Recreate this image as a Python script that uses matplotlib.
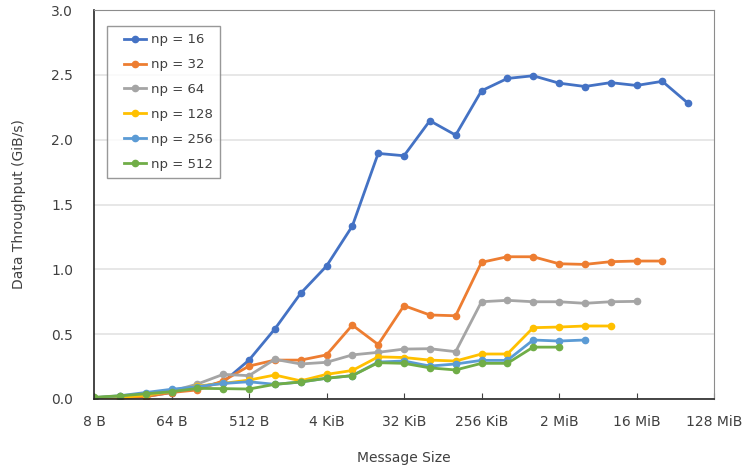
import numpy as np
import matplotlib
matplotlib.use("Agg")
import matplotlib.pyplot as plt
from matplotlib.lines import Line2D
from matplotlib.legend_handler import HandlerLine2D

# message sizes: 8 B .. 64 MiB, powers of two
sizes = [2 ** e for e in range(3, 27)]

tick_sizes = [2 ** e for e in range(3, 28, 3)]
tick_labels = ["8 B", "64 B", "512 B", "4 KiB", "32 KiB", "256 KiB",
               "2 MiB", "16 MiB", "128 MiB"]

# throughput in GiB/s
np16 = [0.01, 0.015, 0.02, 0.05, 0.09, 0.13, 0.30, 0.54, 0.815, 1.025, 1.334,
        1.894, 1.876, 2.146, 2.035, 2.377, 2.472, 2.493, 2.436, 2.41, 2.44,
        2.418, 2.45, 2.28]
np32 = [0.01, 0.01, 0.018, 0.05, 0.07, 0.14, 0.254, 0.30, 0.30, 0.34, 0.57,
        0.42, 0.72, 0.648, 0.642, 1.054, 1.097, 1.097, 1.043, 1.038, 1.059,
        1.064, 1.064]
np64 = [0.01, 0.02, 0.03, 0.06, 0.115, 0.19, 0.18, 0.306, 0.27, 0.283, 0.34,
        0.36, 0.385, 0.388, 0.365, 0.75, 0.761, 0.75, 0.75, 0.738, 0.75,
        0.753]
np128 = [0.0, 0.01, 0.03, 0.06, 0.10, 0.12, 0.146, 0.185, 0.14, 0.19, 0.22,
         0.325, 0.32, 0.30, 0.293, 0.347, 0.347, 0.55, 0.555, 0.563, 0.563]
np256 = [0.01, 0.025, 0.05, 0.075, 0.095, 0.12, 0.133, 0.113, 0.131, 0.16,
         0.18, 0.285, 0.293, 0.254, 0.27, 0.298, 0.298, 0.455, 0.447, 0.455]
np512 = [0.013, 0.025, 0.04, 0.056, 0.082, 0.08, 0.077, 0.113, 0.131, 0.16,
         0.18, 0.28, 0.275, 0.24, 0.224, 0.275, 0.275, 0.40, 0.40]

series = [("np = 16", np16, "#4472C4"),
          ("np = 32", np32, "#ED7D31"),
          ("np = 64", np64, "#A5A5A5"),
          ("np = 128", np128, "#FFC000"),
          ("np = 256", np256, "#5B9BD5"),
          ("np = 512", np512, "#70AD47")]

plt.rcParams["font.family"] = ["DejaVu Sans"]

fig = plt.figure(figsize=(7.43, 4.72), dpi=100)
ax = fig.add_axes([94 / 743, 73 / 472, 620 / 743, 389 / 472])

for label, vals, color in series:
    ax.plot(sizes[:len(vals)], vals, color=color, lw=2, marker="o",
            markersize=4.5, label=label)

ax.set_xscale("log", base=2)
ax.set_xlim(8, 2 ** 27)
ax.set_ylim(0, 3.0)
ax.set_xticks(tick_sizes)
ax.set_xticklabels(tick_labels)
ax.minorticks_off()
ax.set_yticks(np.arange(0, 3.01, 0.5))
ax.set_yticklabels([f"{v:.1f}" for v in np.arange(0, 3.01, 0.5)])

ax.grid(axis="y", color="#E3E3E3", lw=1.2)
ax.set_axisbelow(True)
ax.tick_params(axis="x", direction="in", length=4, color="#404040",
               labelsize=10, labelcolor="#404040", pad=11.5)
ax.tick_params(axis="y", length=0, labelsize=10, labelcolor="#404040",
               pad=15)

for side in ("top", "right"):
    ax.spines[side].set_color("#8C8C8C")
for side in ("left", "bottom"):
    ax.spines[side].set_color("#262626")
    ax.spines[side].set_linewidth(1.2)

ax.set_xlabel("Message Size", fontsize=10, color="#404040", labelpad=16)
ax.set_ylabel("Data Throughput (GiB/s)", fontsize=10, color="#404040",
              labelpad=18)

# short handles with some space to their left, like the original
leg = ax.legend(loc="upper left", bbox_to_anchor=(13 / 620, 1 - 16 / 389),
                fontsize=9.5, frameon=True, fancybox=False, borderpad=0.55,
                labelspacing=0.9, handlelength=2.4, handletextpad=0.4,
                borderaxespad=0,
                handler_map={Line2D: HandlerLine2D(xpad=0.74)})
leg.get_frame().set_edgecolor("#7F7F7F")
leg.get_frame().set_linewidth(1.0)
for t in leg.get_texts():
    t.set_color("#404040")

fig.savefig("out.png", dpi=100)
